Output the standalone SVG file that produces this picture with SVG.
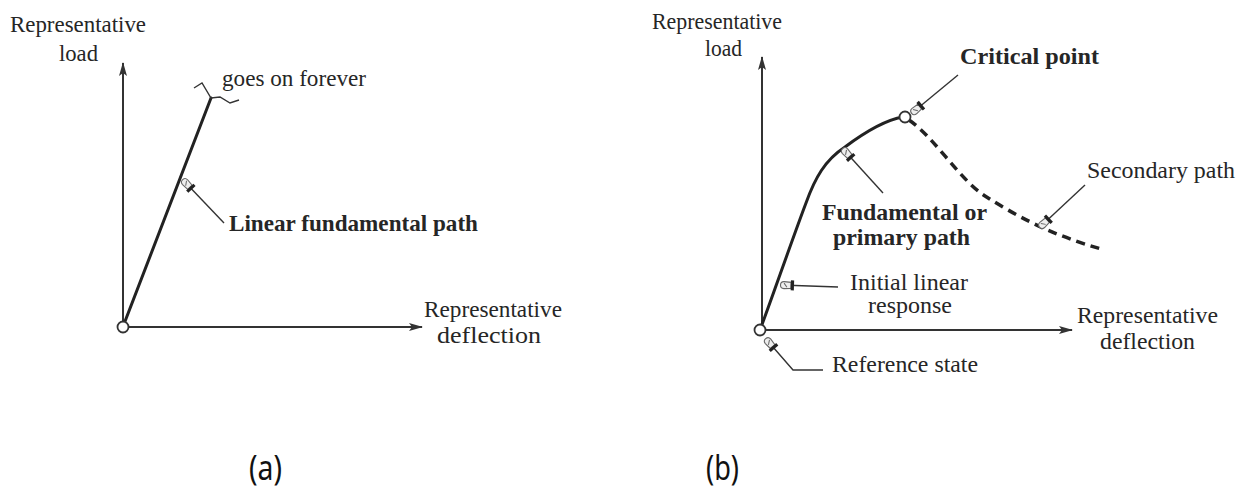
<svg xmlns="http://www.w3.org/2000/svg" width="1245" height="491" viewBox="0 0 1245 491">
<style>
.t{font-family:"Liberation Serif","Times New Roman",serif;font-size:23px;fill:#262626}
.b{font-weight:bold}
.cap{font-family:"Noto Sans","Open Sans",sans-serif;font-size:35px;fill:#111}
.axis{stroke:#333;stroke-width:2;fill:none}
.curve{stroke:#222;stroke-width:3;fill:none;stroke-linecap:round}
.dash{stroke:#222;stroke-width:3.5;fill:none;stroke-dasharray:9 6}
.lead{stroke:#333;stroke-width:1.4;fill:none}
.pt{fill:#fff;stroke:#333;stroke-width:1.8}
</style>
<defs>
<marker id="arr" viewBox="0 0 14 10" refX="13" refY="5" markerWidth="14" markerHeight="10" markerUnits="userSpaceOnUse" orient="auto">
<path d="M0,1 L14,5 L0,9 L3,5 Z" fill="#333"/>
</marker>
<marker id="pin" viewBox="-16 -8 18 16" refX="0" refY="0" markerWidth="18" markerHeight="16" markerUnits="userSpaceOnUse" orient="auto">
<path d="M-10,-3 L-3,-3.5 Q0.5,-3.5 0.5,0 Q0.5,3.5 -3,3.5 L-10,3 Z" fill="#eee" stroke="#666" stroke-width="1.1"/>
<path d="M-6,-2 L-3,2" stroke="#666" stroke-width="1"/>
<rect x="-13" y="-5" width="3.2" height="10" fill="#222"/>
</marker>
</defs>

<g id="panel-a">
  <g id="a-axes">
    <line class="axis" x1="123" y1="327" x2="123" y2="63" marker-end="url(#arr)"/>
    <line class="axis" x1="123" y1="327" x2="422" y2="327" marker-end="url(#arr)"/>
  </g>
  <g id="a-path">
    <line class="curve" x1="124" y1="324" x2="211" y2="98"/>
    <polyline class="lead" points="194,88 202,83 211,98 220,97 230,103 239,100" stroke-width="1.6"/>
  </g>
  <g id="a-origin"><circle class="pt" cx="123" cy="327" r="5.5"/></g>
  <g id="a-ylabel">
    <text class="t" x="10" y="32" textLength="136" lengthAdjust="spacingAndGlyphs">Representative</text>
    <text class="t" x="59" y="61" textLength="39" lengthAdjust="spacingAndGlyphs">load</text>
  </g>
  <g id="a-xlabel">
    <text class="t" x="424" y="317" textLength="138" lengthAdjust="spacingAndGlyphs">Representative</text>
    <text class="t" x="437" y="343" textLength="104" lengthAdjust="spacingAndGlyphs">deflection</text>
  </g>
  <g id="a-forever"><text class="t" x="222" y="86" textLength="144" lengthAdjust="spacingAndGlyphs">goes on forever</text></g>
  <g id="a-linear"><text class="t b" x="229" y="231" textLength="249" lengthAdjust="spacingAndGlyphs">Linear fundamental path</text></g>
  <g id="cap-a"><text class="cap" x="249" y="480" textLength="33" lengthAdjust="spacingAndGlyphs">(a)</text></g>
</g>

<g id="panel-b">
  <g id="b-axes">
    <line class="axis" x1="762" y1="330" x2="762" y2="57" marker-end="url(#arr)"/>
    <line class="axis" x1="760" y1="330" x2="1072" y2="330" marker-end="url(#arr)"/>
  </g>
  <g id="b-primary"><path class="curve" d="M760,330 C772,298 792,240 806,203 C815,178 825,160 845,147 C865,132 885,120 903,117"/></g>
  <g id="b-secondary"><path class="dash" d="M909,120 C935,138 960,180 985,196 C1015,215 1050,235 1105,250"/></g>
  <g id="b-origin"><circle class="pt" cx="760" cy="330" r="5.5"/></g>
  <g id="b-critical-pt"><circle class="pt" cx="905" cy="117" r="5.5"/></g>
  <g id="b-ylabel">
    <text class="t" x="652" y="29" textLength="130" lengthAdjust="spacingAndGlyphs">Representative</text>
    <text class="t" x="705" y="56" textLength="37" lengthAdjust="spacingAndGlyphs">load</text>
  </g>
  <g id="b-xlabel">
    <text class="t" x="1077" y="323" textLength="141" lengthAdjust="spacingAndGlyphs">Representative</text>
    <text class="t" x="1100" y="349" textLength="95" lengthAdjust="spacingAndGlyphs">deflection</text>
  </g>
  <g id="b-critical"><text class="t b" x="960" y="64" textLength="139" lengthAdjust="spacingAndGlyphs">Critical point</text></g>
  <g id="b-fundamental">
    <text class="t b" x="822" y="220" textLength="165" lengthAdjust="spacingAndGlyphs">Fundamental or</text>
    <text class="t b" x="833" y="245" textLength="137" lengthAdjust="spacingAndGlyphs">primary path</text>
  </g>
  <g id="b-initial">
    <text class="t" x="850" y="290" textLength="118" lengthAdjust="spacingAndGlyphs">Initial linear</text>
    <text class="t" x="868" y="313" textLength="84" lengthAdjust="spacingAndGlyphs">response</text>
  </g>
  <g id="b-reference"><text class="t" x="832" y="372" textLength="146" lengthAdjust="spacingAndGlyphs">Reference state</text></g>
  <g id="b-secondary-label"><text class="t" x="1087" y="178" textLength="148" lengthAdjust="spacingAndGlyphs">Secondary path</text></g>
  <g id="cap-b"><text class="cap" x="706" y="480" textLength="33" lengthAdjust="spacingAndGlyphs">(b)</text></g>
</g>

<g id="connectors">
  <line class="lead" x1="224" y1="223" x2="183" y2="180" marker-end="url(#pin)"/>
  <line class="lead" x1="958" y1="75" x2="912" y2="113" marker-end="url(#pin)"/>
  <line class="lead" x1="883" y1="193" x2="843" y2="149" marker-end="url(#pin)"/>
  <line class="lead" x1="838" y1="287" x2="781" y2="285" marker-end="url(#pin)"/>
  <polyline class="lead" points="823,370 793,370 766,339" marker-end="url(#pin)"/>
  <line class="lead" x1="1085" y1="185" x2="1040" y2="227" marker-end="url(#pin)"/>
</g>
</svg>
